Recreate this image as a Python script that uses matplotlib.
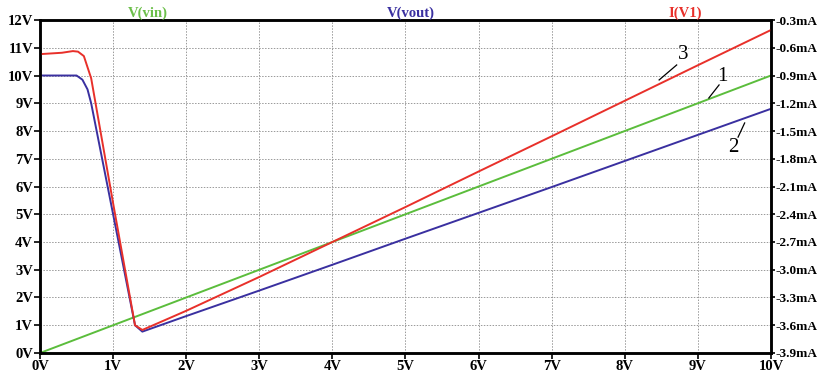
import numpy as np
import matplotlib.pyplot as plt

# sweep voltage (V) for each trace
vin_x = [0, 10]
vin_y = [0, 10]

vout_x = [0, 0.5, 0.58, 0.65, 0.7, 1.0, 1.3, 1.4, 2, 3, 4, 5, 6, 7, 8, 9, 10]
vout_y = [10.0, 10.0, 9.85, 9.5, 9.0, 5.0, 1.0, 0.77, 1.33, 2.25, 3.18, 4.12,
          5.05, 5.98, 6.92, 7.86, 8.8]

iv1_x = [0, 0.3, 0.45, 0.52, 0.6, 0.7, 1.0, 1.3, 1.4, 2, 3, 4, 5, 6, 7, 8, 9, 10]
iv1_ma = [-0.669, -0.654, -0.636, -0.642, -0.69, -0.93, -2.28, -3.6, -3.651,
          -3.444, -3.078, -2.7, -2.322, -1.938, -1.557, -1.173, -0.789, -0.408]

c_green = '#5bbd3c'
c_blue = '#3a30a0'
c_red = '#e8302a'

plt.rcParams['font.family'] = ['Liberation Serif', 'DejaVu Serif']

fig = plt.figure(figsize=(8.18, 3.72), dpi=100)
ax = fig.add_axes([0.0489, 0.0511, 0.8936, 0.8951])
ax2 = ax.twinx()

ax.plot(vin_x, vin_y, color=c_green, lw=1.4)
ax.plot(vout_x, vout_y, color=c_blue, lw=1.4)
ax2.plot(iv1_x, iv1_ma, color=c_red, lw=1.4)

ax.set_xlim(0, 10)
ax.set_ylim(0, 12)
ax2.set_ylim(-3.9, -0.3)

ax.set_xticks(np.arange(0, 11))
ax.set_xticklabels([f'{i}V' for i in range(11)])
ax.set_yticks(np.arange(0, 13))
ax.set_yticklabels([f'{i}V' for i in range(13)])
ax2.set_yticks(np.linspace(-3.9, -0.3, 13))
ax2.set_yticklabels([f'{v:.1f}mA' for v in np.linspace(-3.9, -0.3, 13)])

ax.grid(True, color='#999999', ls=(0, (1.5, 1.5)), lw=0.7)
for a in (ax, ax2):
    for s in a.spines.values():
        s.set_linewidth(1.8)
    a.tick_params(length=4, width=1.2, labelsize=10.5, pad=1)
    for lbl in a.get_xticklabels() + a.get_yticklabels():
        lbl.set_fontweight('bold')
ax2.tick_params(axis='y', labelsize=9.5, pad=0.5, length=3)

# trace labels above the plot
fig.text(0.181, 0.965, 'V(vin)', color='#6cbf4a', fontsize=10.5, fontweight='bold', ha='center', va='center')
fig.text(0.502, 0.965, 'V(vout)', color=c_blue, fontsize=10.5, fontweight='bold', ha='center', va='center')
fig.text(0.838, 0.965, 'I(V1)', color=c_red, fontsize=10.5, fontweight='bold', ha='center', va='center')

# numbered callouts
ax.text(8.80, 10.74, '3', fontsize=15, ha='center', va='center')
ax.plot([8.47, 8.71], [9.84, 10.38], color='black', lw=0.9)
ax.text(9.34, 9.95, '1', fontsize=15, ha='center', va='center')
ax.plot([9.15, 9.29], [9.19, 9.66], color='black', lw=0.9)
ax.text(9.48, 7.40, '2', fontsize=15, ha='center', va='center')
ax.plot([9.64, 9.55], [8.29, 7.78], color='black', lw=0.9)

fig.savefig('out.png', dpi=100)
